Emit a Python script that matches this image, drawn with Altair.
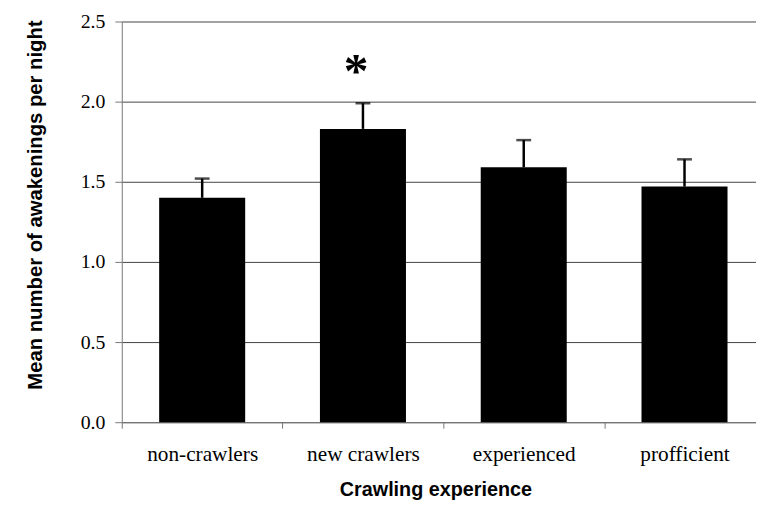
import json
import altair as alt
import pandas as pd

categories = ["non-crawlers", "new crawlers", "experienced", "profficient"]
means = [1.40, 1.83, 1.59, 1.47]
upper = [1.52, 1.99, 1.76, 1.64]
stars = ["", "*", "", ""]

df = pd.DataFrame({
    "cat": categories,
    "idx": list(range(len(categories))),
    "mean": means,
    "upper": upper,
    "star": stars,
})

SERIF = "Liberation Serif"
SANS = "Liberation Sans"
TITLE = "Mean number of awakenings per night"
BAR_FRAC = 0.535
# plot is 641 px wide; each category slot is ~162.5 px, so the last slot runs past the edge
XMAX = 641 / 162.5

cat_js = json.dumps(categories)
label_expr = f"datum.value % 1 != 0 ? {cat_js}[floor(datum.value)] : ''"

xscale = alt.Scale(domain=[0, XMAX], nice=False, zero=False, padding=0)
x_axis = alt.Axis(
    title="Crawling experience",
    values=[0, 0.5, 1, 1.5, 2, 2.5, 3, 3.5],
    labelExpr=label_expr,
    labelOverlap=False,
    labelFlush=False,
    labelAngle=0,
    tickSize=6,
    tickOpacity={"condition": {"test": "datum.value % 1 != 0", "value": 0}, "value": 1},
    labelBaseline="alphabetic",
    labelPadding=33,
    titleBaseline="alphabetic",
    titleX=317,
    titleY=74,
    grid=False,
)

y_axis = alt.Axis(
    title=TITLE,
    values=[0, 0.5, 1.0, 1.5, 2.0, 2.5],
    format=".1f",
    grid=True,
    tickSize=7,
    labelPadding=10,
    labelFont=SERIF,
    titleX=-77,
    titleY=185,
)

yscale = alt.Scale(domain=[0, 2.5], nice=False, padding=0)

base = alt.Chart(df).transform_calculate(
    x0=f"datum.idx + {(1 - BAR_FRAC) / 2}",
    x1=f"datum.idx + {(1 + BAR_FRAC) / 2}",
    xc="datum.idx + 0.5",
)

X = alt.X("xc:Q", scale=xscale, axis=x_axis, title="Crawling experience")
Y = lambda f: alt.Y(f, scale=yscale, axis=y_axis, title=TITLE)

bars = base.mark_bar(color="black", orient="vertical").encode(
    x=alt.X("x0:Q", scale=xscale, axis=x_axis, title="Crawling experience"),
    x2="x1:Q",
    y=Y("mean:Q"),
    y2=alt.datum(0),
)
err = base.mark_rule(color="black", strokeWidth=2.5).encode(x=X, y=Y("mean:Q"), y2="upper:Q")
caps = base.mark_tick(color="black", thickness=2.5, size=15, orient="horizontal").encode(
    x=X, y=Y("upper:Q")
)
star = base.mark_text(
    font=SERIF, fontSize=50, fontWeight="bold", color="black",
    baseline="alphabetic", dx=-7, dy=-16
).encode(x=X, y=Y("upper:Q"), text="star:N")

chart = (
    alt.layer(bars, err, caps, star)
    .properties(
        width=641,
        height=405,
        autosize=alt.AutoSizeParams(type="none"),
        padding={"left": 115, "top": 11, "right": 0, "bottom": 78},
    )
    .configure_view(stroke=None)
    .configure_axis(
        labelFont=SERIF,
        labelColor="black",
        titleFont=SANS,
        titleFontWeight="bold",
        titleColor="black",
        tickColor="#777",
        domainColor="#777",
        gridColor="#444",
        gridWidth=1,
    )
    .configure_axisX(labelFontSize=21.5, titleFontSize=20)
    .configure_axisY(labelFontSize=20, titleFontSize=20.5)
)

chart.save("out.html", embed_options={"renderer": "svg", "actions": False})
